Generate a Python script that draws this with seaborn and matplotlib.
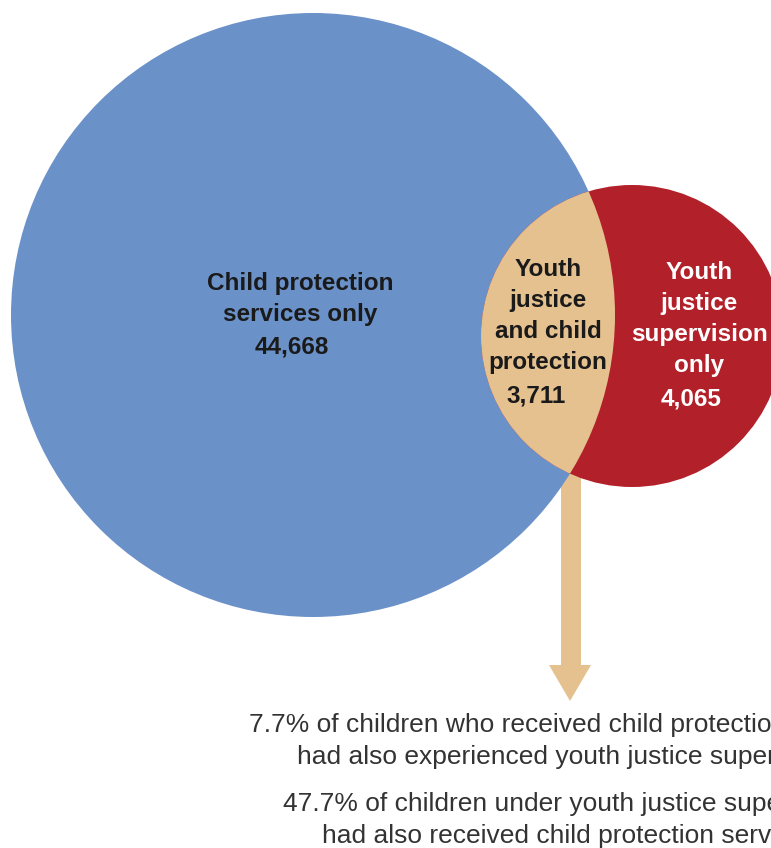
"""Venn diagram: child protection services and youth justice supervision overlap."""

import matplotlib

matplotlib.use("Agg")
import matplotlib.pyplot as plt
import seaborn as sns
from matplotlib.patches import Circle, Polygon

sns.set_theme(style="white")
plt.rcParams["font.family"] = ["Liberation Sans", "DejaVu Sans"]

# data
REGION_LABELS = [
    "Child protection\nservices only",
    "Youth\njustice\nand child\nprotection",
    "Youth\njustice\nsupervision\nonly",
]
REGION_COUNTS = [44668, 3711, 4065]
NOTES = [
    "7.7% of children who received child protection services\nhad also experienced youth justice supervision",
    "47.7% of children under youth justice supervision\nhad also received child protection services",
]

BLUE = "#6B91C9"
RED = "#B2202A"
TAN = "#E6C190"
TEXT_DARK = "#1a1a1a"
NOTE_COLOR = "#333333"

W, H = 771, 848


def main() -> None:
    fig = plt.figure(figsize=(W / 100, H / 100), dpi=100)
    ax = fig.add_axes([0, 0, 1, 1])
    ax.set_xlim(0, W)
    ax.set_ylim(H, 0)
    ax.set_aspect("equal")
    ax.axis("off")

    cp = Circle((313, 315), 302, facecolor=BLUE, edgecolor="none", zorder=1)
    yj = Circle((632, 336), 151, facecolor=RED, edgecolor="none", zorder=2)
    both = Circle((632, 336), 151, facecolor=TAN, edgecolor="none", zorder=3)
    ax.add_patch(cp)
    ax.add_patch(yj)
    ax.add_patch(both)
    both.set_clip_path(cp)

    # arrow from the overlap down to the notes
    ax.add_patch(Polygon(
        [(561, 470), (581, 470), (581, 665), (591, 665), (570, 701), (549, 665), (561, 665)],
        closed=True, facecolor=TAN, edgecolor="none", zorder=0,
    ))

    label_kw = dict(fontsize=17.5, fontweight="bold", ha="center", va="center",
                    linespacing=1.45, zorder=5)
    ax.text(300, 299, REGION_LABELS[0], color=TEXT_DARK, **label_kw)
    ax.text(292, 347, f"{REGION_COUNTS[0]:,}", color=TEXT_DARK, **label_kw)

    ax.text(548, 316, REGION_LABELS[1], color=TEXT_DARK, **label_kw)
    ax.text(536, 396, f"{REGION_COUNTS[1]:,}", color=TEXT_DARK, **label_kw)

    ax.text(699, 319, REGION_LABELS[2], color="white", **label_kw)
    ax.text(691, 399, f"{REGION_COUNTS[2]:,}", color="white", **label_kw)

    note_kw = dict(fontsize=19, ha="center", va="center", color=NOTE_COLOR, linespacing=1.47)
    ax.text(570, 741, NOTES[0], **note_kw)
    ax.text(570, 820, NOTES[1], **note_kw)

    fig.savefig("out.png", dpi=100, facecolor="white")
    plt.close(fig)


if __name__ == "__main__":
    main()
